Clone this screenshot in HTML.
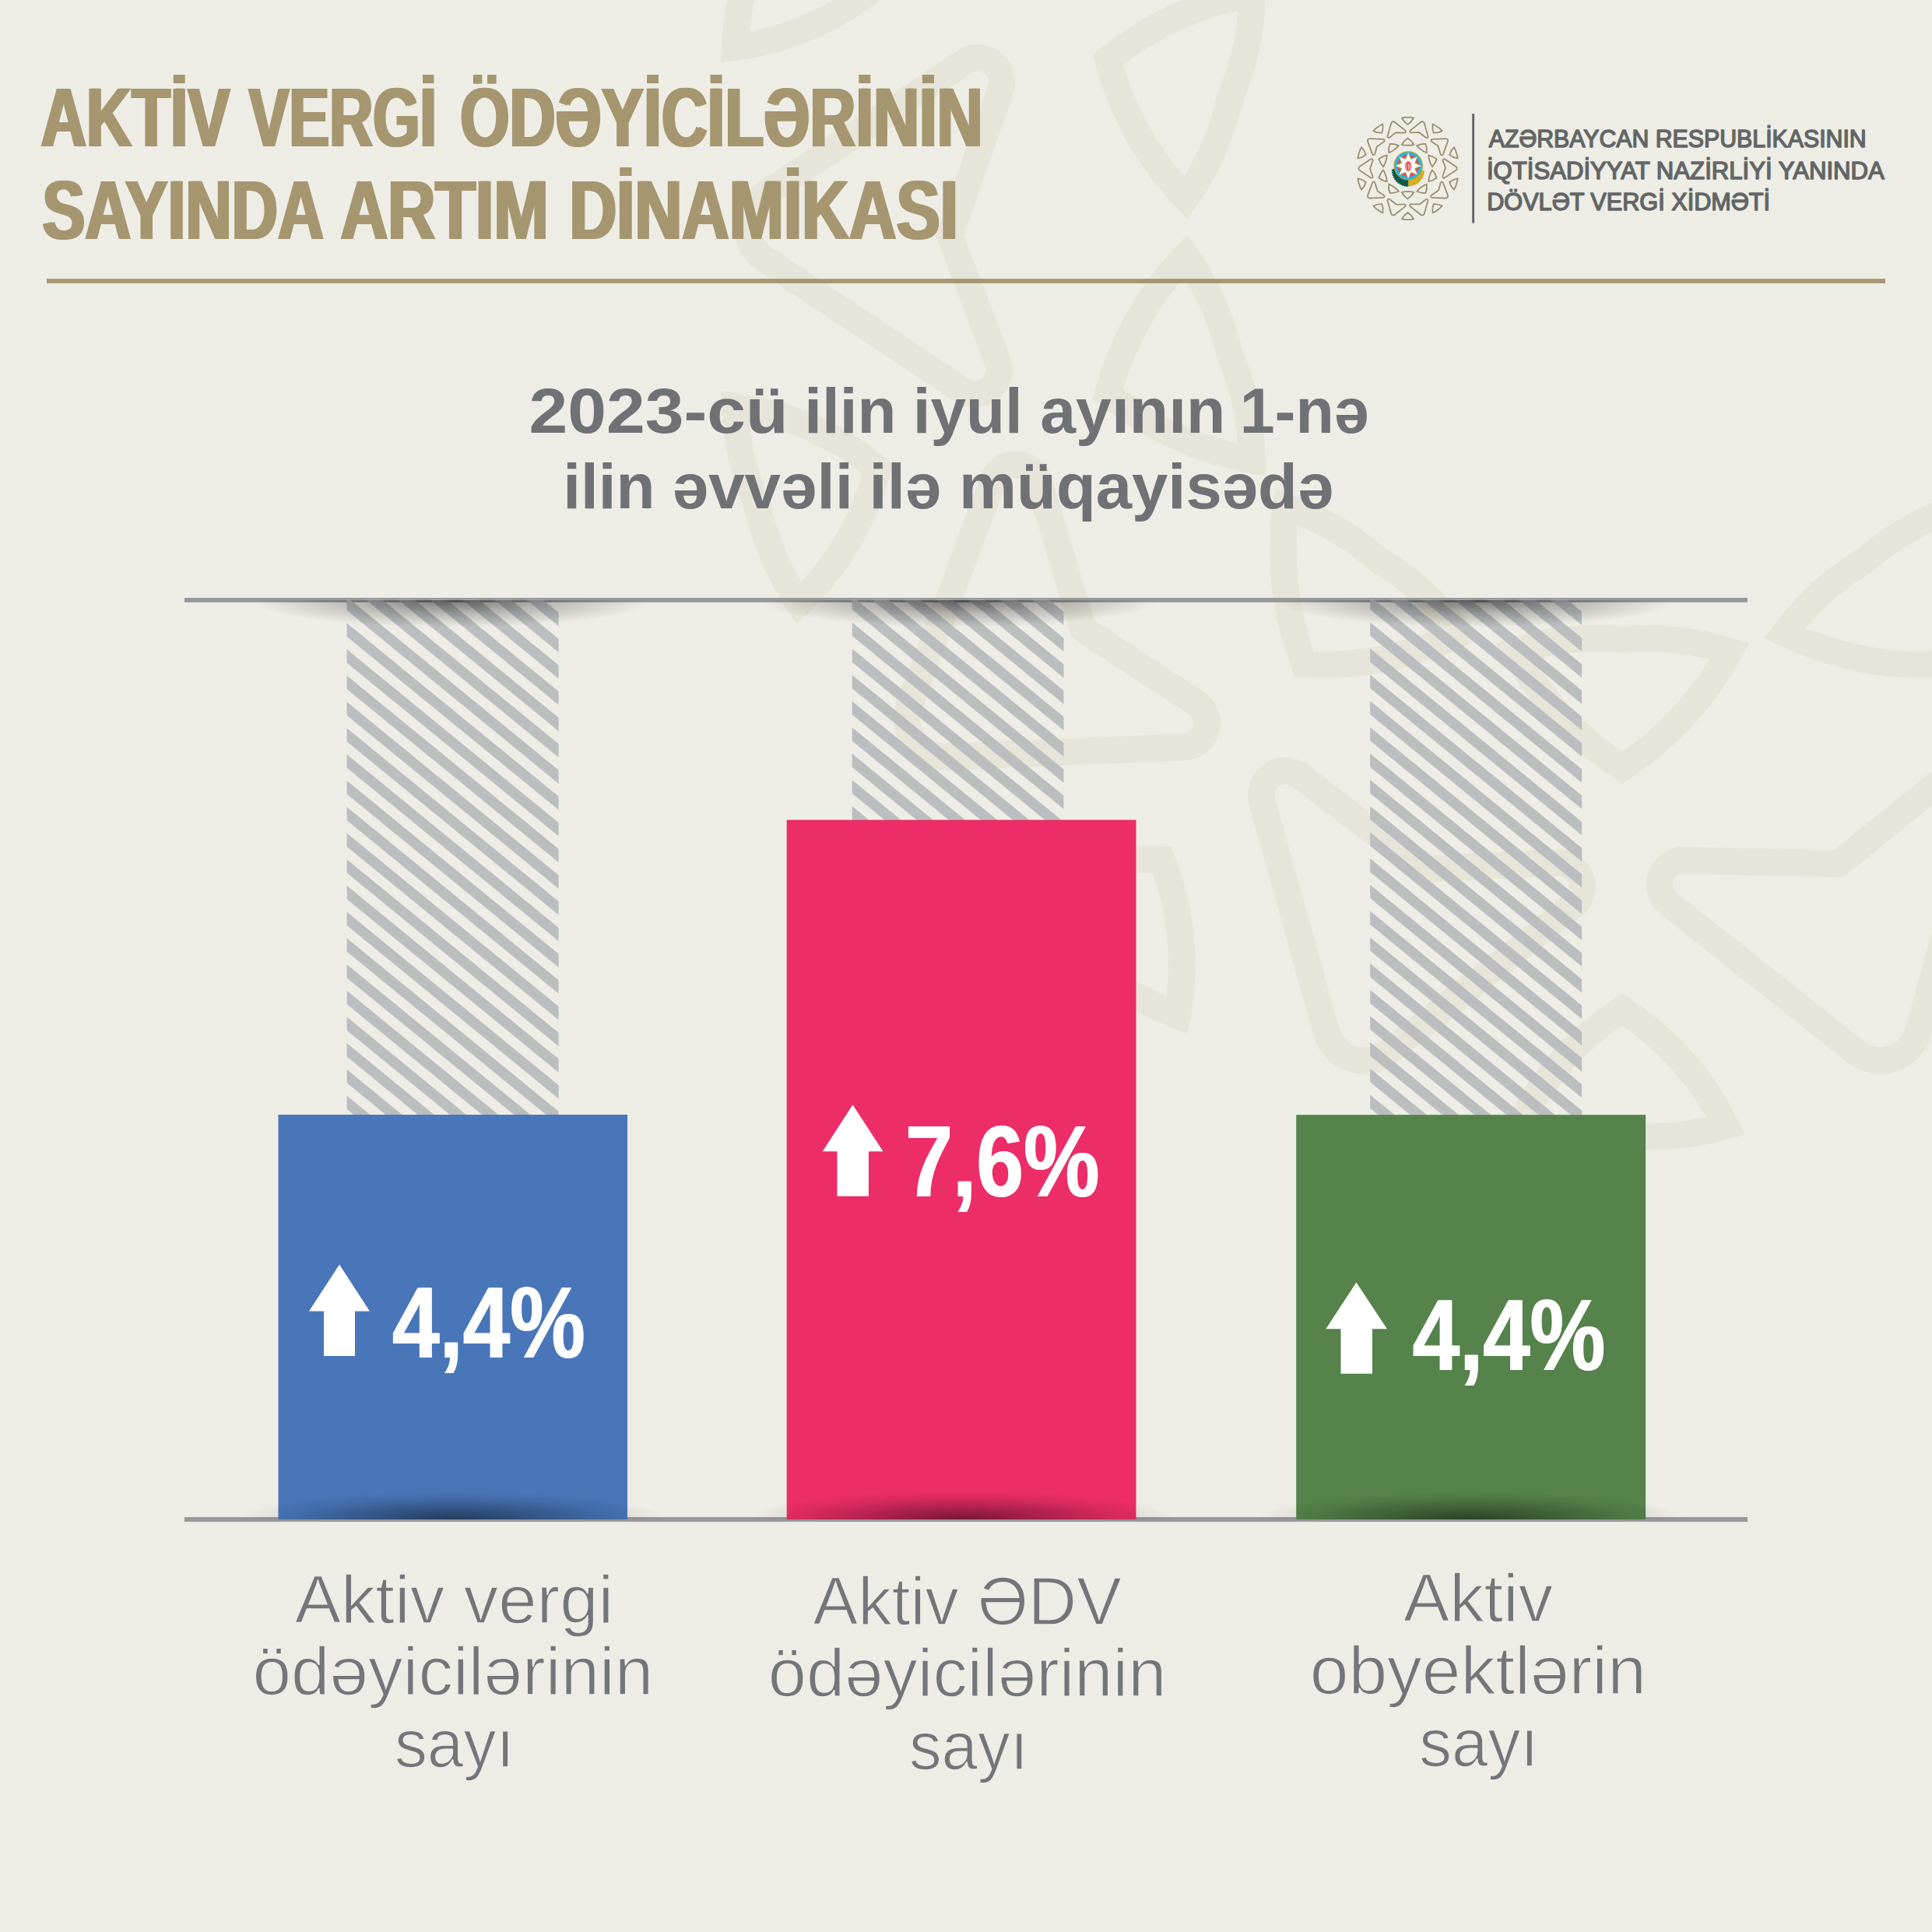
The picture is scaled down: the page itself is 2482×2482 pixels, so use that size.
<!DOCTYPE html>
<html lang="az">
<head>
<meta charset="utf-8">
<title>Aktiv vergi ödəyicilərinin sayında artım dinamikası</title>
<style>
html,body{margin:0;padding:0;background:#EEEDE5;}
body{width:2482px;height:2482px;overflow:hidden;font-family:"Liberation Sans",sans-serif;}
svg{display:block;position:absolute;left:0;top:0;}
text{font-family:"Liberation Sans",sans-serif;}
.title{font-weight:bold;font-size:108px;fill:#A59670;}
.org{font-size:31px;fill:#636666;stroke:#636666;stroke-width:1.5px;stroke-linejoin:round;}
.sub{font-weight:bold;font-size:82px;fill:#6F7175;}
.lbl{font-size:86.5px;fill:#737579;stroke:#EEEDE5;stroke-width:1.5px;}
.num{font-weight:bold;font-size:129px;fill:#ffffff;}
</style>
</head>
<body>
<svg width="2482" height="2482" viewBox="0 0 2482 2482">
<defs>
  <pattern id="hatch" width="26.1" height="26.1" patternUnits="userSpaceOnUse" patternTransform="translate(445.6 800.5) rotate(39.3)">
    <rect x="0" y="0" width="26.1" height="13.4" fill="#B6B9BC" fill-opacity="0.9"/>
  </pattern>
  <pattern id="hatch2" width="26.1" height="26.1" patternUnits="userSpaceOnUse" patternTransform="translate(1094.7 799.6) rotate(39.3)">
    <rect x="0" y="0" width="26.1" height="13.4" fill="#B6B9BC" fill-opacity="0.9"/>
  </pattern>
  <pattern id="hatch3" width="26.1" height="26.1" patternUnits="userSpaceOnUse" patternTransform="translate(1760.2 799.4) rotate(39.3)">
    <rect x="0" y="0" width="26.1" height="13.4" fill="#B6B9BC" fill-opacity="0.9"/>
  </pattern>
  <radialGradient id="shTop" cx="0.5" cy="0" r="0.5" gradientTransform="scale(1 2)">
    <stop offset="0" stop-color="#000" stop-opacity="0.5"/>
    <stop offset="0.5" stop-color="#000" stop-opacity="0.22"/>
    <stop offset="1" stop-color="#000" stop-opacity="0"/>
  </radialGradient>
  <radialGradient id="shBot" cx="0.5" cy="1" r="0.5" gradientTransform="translate(0 -1) scale(1 2)">
    <stop offset="0" stop-color="#000" stop-opacity="0.5"/>
    <stop offset="0.4" stop-color="#000" stop-opacity="0.27"/>
    <stop offset="0.75" stop-color="#000" stop-opacity="0.08"/>
    <stop offset="1" stop-color="#000" stop-opacity="0"/>
  </radialGradient>
</defs>

<!-- BACKGROUND -->
<rect x="0" y="0" width="2482" height="2482" fill="#EEEDE5"/>
<g id="ornament">
<g fill="none" stroke="#E7E5D9" stroke-width="34.50" stroke-linejoin="miter" stroke-miterlimit="6">
<path d="M2084.0 -403.3 Q2172.1 -346.0 2221.9 -253.4 Q2154.4 -232.1 2084.0 -238.7 Q2013.6 -232.1 1946.1 -253.4 Q1995.9 -346.0 2084.0 -403.3 Z"/>
<path d="M2084.0 -714.1 Q2171.4 -770.3 2217.0 -863.7 Q2151.6 -881.9 2084.0 -876.2 Q2016.4 -881.9 1951.0 -863.7 Q1996.6 -770.3 2084.0 -714.1 Z"/>
<path d="M2463.9 -743.0 L2546.6 -446.6 A31.0 31.0 0 0 1 2498.0 -413.6 L2340.5 -533.6 L2167.8 -525.0 A31.0 31.0 0 0 1 2147.0 -580.3 L2384.7 -768.8 A50.0 50.0 0 0 1 2463.9 -743.0 Z"/>
<path d="M2492.4 -270.6 Q2529.9 -172.4 2515.8 -68.3 Q2448.8 -90.7 2395.6 -137.4 Q2334.8 -173.5 2292.7 -230.4 Q2387.4 -276.0 2492.4 -270.6 Z"/>
<path d="M2675.1 -522.0 Q2778.8 -516.1 2870.6 -564.9 Q2828.4 -618.1 2770.4 -653.2 Q2719.0 -697.5 2655.4 -721.3 Q2637.4 -618.9 2675.1 -522.0 Z"/>
<path d="M2999.4 -322.1 L2892.1 -33.7 A31.0 31.0 0 0 1 2833.4 -35.6 L2776.5 -225.2 L2631.7 -319.8 A31.0 31.0 0 0 1 2647.3 -376.8 L2950.5 -389.5 A50.0 50.0 0 0 1 2999.4 -322.1 Z"/>
<path d="M2744.8 76.8 Q2717.5 178.3 2644.8 254.3 Q2603.8 196.7 2588.3 127.7 Q2560.2 62.7 2559.6 -8.0 Q2663.0 10.7 2744.8 76.8 Z"/>
<path d="M3040.4 -19.2 Q3120.8 46.5 3223.8 61.0 Q3220.9 -6.8 3194.5 -69.3 Q3179.1 -135.4 3141.6 -192.0 Q3066.8 -119.8 3040.4 -19.2 Z"/>
<path d="M3185.3 333.2 L2929.0 503.4 A31.0 31.0 0 0 1 2882.5 467.3 L2948.0 280.5 L2886.4 118.8 A31.0 31.0 0 0 1 2932.5 82.0 L3185.3 249.8 A50.0 50.0 0 0 1 3185.3 333.2 Z"/>
<path d="M2744.8 506.2 Q2663.0 572.3 2559.6 591.0 Q2560.2 520.3 2588.3 455.3 Q2603.8 386.3 2644.8 328.7 Q2717.5 404.7 2744.8 506.2 Z"/>
<path d="M3040.4 602.2 Q3066.8 702.8 3141.6 775.0 Q3179.1 718.4 3194.5 652.3 Q3220.9 589.8 3223.8 522.0 Q3120.8 536.5 3040.4 602.2 Z"/>
<path d="M2950.5 972.5 L2643.0 959.6 A31.0 31.0 0 0 1 2626.7 903.1 L2789.5 790.4 L2834.7 623.5 A31.0 31.0 0 0 1 2893.6 620.8 L2999.4 905.1 A50.0 50.0 0 0 1 2950.5 972.5 Z"/>
<path d="M2492.4 853.6 Q2387.4 859.0 2292.7 813.4 Q2334.8 756.5 2395.6 720.4 Q2448.8 673.7 2515.8 651.3 Q2529.9 755.4 2492.4 853.6 Z"/>
<path d="M2675.1 1105.0 Q2637.4 1201.9 2655.4 1304.3 Q2719.0 1280.5 2770.4 1236.2 Q2828.4 1201.1 2870.6 1147.9 Q2778.8 1099.1 2675.1 1105.0 Z"/>
<path d="M2384.7 1351.8 L2143.6 1160.6 A31.0 31.0 0 0 1 2163.6 1105.3 L2361.5 1109.8 L2496.2 1001.3 A31.0 31.0 0 0 1 2545.5 1033.8 L2463.9 1326.0 A50.0 50.0 0 0 1 2384.7 1351.8 Z"/>
<path d="M2084.0 986.3 Q1995.9 929.0 1946.1 836.4 Q2013.6 815.1 2084.0 821.7 Q2154.4 815.1 2221.9 836.4 Q2172.1 929.0 2084.0 986.3 Z"/>
<path d="M2084.0 1297.1 Q1996.6 1353.3 1951.0 1446.7 Q2016.4 1464.9 2084.0 1459.2 Q2151.6 1464.9 2217.0 1446.7 Q2171.4 1353.3 2084.0 1297.1 Z"/>
<path d="M1704.1 1326.0 L1621.4 1029.6 A31.0 31.0 0 0 1 1670.0 996.6 L1827.5 1116.6 L2000.2 1108.0 A31.0 31.0 0 0 1 2021.0 1163.3 L1783.3 1351.8 A50.0 50.0 0 0 1 1704.1 1326.0 Z"/>
<path d="M1675.6 853.6 Q1638.1 755.4 1652.2 651.3 Q1719.2 673.7 1772.4 720.4 Q1833.2 756.5 1875.3 813.4 Q1780.6 859.0 1675.6 853.6 Z"/>
<path d="M1492.9 1105.0 Q1389.2 1099.1 1297.4 1147.9 Q1339.6 1201.1 1397.6 1236.2 Q1449.0 1280.5 1512.6 1304.3 Q1530.6 1201.9 1492.9 1105.0 Z"/>
<path d="M1168.6 905.1 L1275.9 616.7 A31.0 31.0 0 0 1 1334.6 618.6 L1391.5 808.2 L1536.3 902.8 A31.0 31.0 0 0 1 1520.7 959.8 L1217.5 972.5 A50.0 50.0 0 0 1 1168.6 905.1 Z"/>
<path d="M1423.2 506.2 Q1450.5 404.7 1523.2 328.7 Q1564.2 386.3 1579.7 455.3 Q1607.8 520.3 1608.4 591.0 Q1505.0 572.3 1423.2 506.2 Z"/>
<path d="M1127.6 602.2 Q1047.2 536.5 944.2 522.0 Q947.1 589.8 973.5 652.3 Q988.9 718.4 1026.4 775.0 Q1101.2 702.8 1127.6 602.2 Z"/>
<path d="M982.7 249.8 L1239.0 79.6 A31.0 31.0 0 0 1 1285.5 115.7 L1220.0 302.5 L1281.6 464.2 A31.0 31.0 0 0 1 1235.5 501.0 L982.7 333.2 A50.0 50.0 0 0 1 982.7 249.8 Z"/>
<path d="M1423.2 76.8 Q1505.0 10.7 1608.4 -8.0 Q1607.8 62.7 1579.7 127.7 Q1564.2 196.7 1523.2 254.3 Q1450.5 178.3 1423.2 76.8 Z"/>
<path d="M1127.6 -19.2 Q1101.2 -119.8 1026.4 -192.0 Q988.9 -135.4 973.5 -69.3 Q947.1 -6.8 944.2 61.0 Q1047.2 46.5 1127.6 -19.2 Z"/>
<path d="M1217.5 -389.5 L1525.0 -376.6 A31.0 31.0 0 0 1 1541.3 -320.1 L1378.5 -207.4 L1333.3 -40.5 A31.0 31.0 0 0 1 1274.4 -37.8 L1168.6 -322.1 A50.0 50.0 0 0 1 1217.5 -389.5 Z"/>
<path d="M1675.6 -270.6 Q1780.6 -276.0 1875.3 -230.4 Q1833.2 -173.5 1772.4 -137.4 Q1719.2 -90.7 1652.2 -68.3 Q1638.1 -172.4 1675.6 -270.6 Z"/>
<path d="M1492.9 -522.0 Q1530.6 -618.9 1512.6 -721.3 Q1449.0 -697.5 1397.6 -653.2 Q1339.6 -618.1 1297.4 -564.9 Q1389.2 -516.1 1492.9 -522.0 Z"/>
<path d="M1783.3 -768.8 L2024.4 -577.6 A31.0 31.0 0 0 1 2004.4 -522.3 L1806.5 -526.8 L1671.8 -418.3 A31.0 31.0 0 0 1 1622.5 -450.8 L1704.1 -743.0 A50.0 50.0 0 0 1 1783.3 -768.8 Z"/>
</g>
</g>

<!-- HEADER -->
<g id="header">
  <text class="title" x="50.58" y="188.30" textLength="242.87" lengthAdjust="spacingAndGlyphs">AKTİV</text>
  <text class="title" x="54.38" y="188.30" textLength="242.87" lengthAdjust="spacingAndGlyphs">AKTİV</text>
  <text class="title" x="317.67" y="188.30" textLength="241.42" lengthAdjust="spacingAndGlyphs">VERGİ</text>
  <text class="title" x="321.47" y="188.30" textLength="241.42" lengthAdjust="spacingAndGlyphs">VERGİ</text>
  <text class="title" x="589.15" y="188.30" textLength="671.55" lengthAdjust="spacingAndGlyphs">ÖDƏYİCİLƏRİNİN</text>
  <text class="title" x="592.95" y="188.30" textLength="671.55" lengthAdjust="spacingAndGlyphs">ÖDƏYİCİLƏRİNİN</text>
  <text class="title" x="52.58" y="306.90" textLength="361.73" lengthAdjust="spacingAndGlyphs">SAYINDA</text>
  <text class="title" x="56.38" y="306.90" textLength="361.73" lengthAdjust="spacingAndGlyphs">SAYINDA</text>
  <text class="title" x="435.40" y="306.90" textLength="267.35" lengthAdjust="spacingAndGlyphs">ARTIM</text>
  <text class="title" x="439.20" y="306.90" textLength="267.35" lengthAdjust="spacingAndGlyphs">ARTIM</text>
  <text class="title" x="729.58" y="306.90" textLength="499.44" lengthAdjust="spacingAndGlyphs">DİNAMİKASI</text>
  <text class="title" x="733.38" y="306.90" textLength="499.44" lengthAdjust="spacingAndGlyphs">DİNAMİKASI</text>
  <rect x="60" y="358.1" width="2362" height="5.8" fill="#A59670"/>
</g>
<!-- LOGO -->
<g id="logo">
<g fill="none" stroke="#988D6D" stroke-width="1.75" stroke-linejoin="miter" stroke-miterlimit="6" stroke-linejoin="round">
<path d="M1808.5 177.4 Q1813.4 180.6 1816.2 185.8 Q1812.5 187.0 1808.5 186.6 Q1804.5 187.0 1800.8 185.8 Q1803.6 180.6 1808.5 177.4 Z"/>
<path d="M1808.5 159.9 Q1813.4 156.7 1816.0 151.5 Q1812.3 150.5 1808.5 150.8 Q1804.7 150.5 1801.0 151.5 Q1803.6 156.7 1808.5 159.9 Z"/>
<path d="M1829.8 158.3 L1834.5 174.9 A1.7 1.7 0 0 1 1831.8 176.8 L1822.9 170.0 L1813.2 170.5 A1.7 1.7 0 0 1 1812.0 167.4 L1825.4 156.8 A2.8 2.8 0 0 1 1829.8 158.3 Z"/>
<path d="M1831.4 184.8 Q1833.6 190.3 1832.8 196.2 Q1829.0 194.9 1826.0 192.3 Q1822.6 190.3 1820.2 187.1 Q1825.5 184.5 1831.4 184.8 Z"/>
<path d="M1841.7 170.7 Q1847.5 171.0 1852.7 168.3 Q1850.3 165.3 1847.1 163.3 Q1844.2 160.8 1840.6 159.5 Q1839.6 165.3 1841.7 170.7 Z"/>
<path d="M1859.9 181.9 L1853.9 198.1 A1.7 1.7 0 0 1 1850.6 198.0 L1847.4 187.4 L1839.3 182.1 A1.7 1.7 0 0 1 1840.1 178.9 L1857.2 178.1 A2.8 2.8 0 0 1 1859.9 181.9 Z"/>
<path d="M1845.6 204.3 Q1844.1 210.0 1840.0 214.3 Q1837.7 211.1 1836.8 207.2 Q1835.3 203.5 1835.2 199.6 Q1841.0 200.6 1845.6 204.3 Z"/>
<path d="M1862.2 198.9 Q1866.7 202.6 1872.5 203.5 Q1872.4 199.6 1870.9 196.1 Q1870.0 192.4 1867.9 189.2 Q1863.7 193.3 1862.2 198.9 Z"/>
<path d="M1870.4 218.7 L1856.0 228.3 A1.7 1.7 0 0 1 1853.4 226.3 L1857.0 215.8 L1853.6 206.7 A1.7 1.7 0 0 1 1856.2 204.6 L1870.4 214.1 A2.8 2.8 0 0 1 1870.4 218.7 Z"/>
<path d="M1845.6 228.5 Q1841.0 232.2 1835.2 233.2 Q1835.3 229.3 1836.8 225.6 Q1837.7 221.7 1840.0 218.5 Q1844.1 222.8 1845.6 228.5 Z"/>
<path d="M1862.2 233.9 Q1863.7 239.5 1867.9 243.6 Q1870.0 240.4 1870.9 236.7 Q1872.4 233.2 1872.5 229.3 Q1866.7 230.2 1862.2 233.9 Z"/>
<path d="M1857.2 254.7 L1839.9 253.9 A1.7 1.7 0 0 1 1839.0 250.8 L1848.1 244.4 L1850.7 235.1 A1.7 1.7 0 0 1 1854.0 234.9 L1859.9 250.9 A2.8 2.8 0 0 1 1857.2 254.7 Z"/>
<path d="M1831.4 248.0 Q1825.5 248.3 1820.2 245.7 Q1822.6 242.5 1826.0 240.5 Q1829.0 237.9 1832.8 236.6 Q1833.6 242.5 1831.4 248.0 Z"/>
<path d="M1841.7 262.1 Q1839.6 267.5 1840.6 273.3 Q1844.2 272.0 1847.1 269.5 Q1850.3 267.5 1852.7 264.5 Q1847.5 261.8 1841.7 262.1 Z"/>
<path d="M1825.4 276.0 L1811.8 265.2 A1.7 1.7 0 0 1 1813.0 262.1 L1824.1 262.4 L1831.7 256.3 A1.7 1.7 0 0 1 1834.4 258.1 L1829.8 274.5 A2.8 2.8 0 0 1 1825.4 276.0 Z"/>
<path d="M1808.5 255.4 Q1803.6 252.2 1800.8 247.0 Q1804.5 245.8 1808.5 246.2 Q1812.5 245.8 1816.2 247.0 Q1813.4 252.2 1808.5 255.4 Z"/>
<path d="M1808.5 272.9 Q1803.6 276.1 1801.0 281.3 Q1804.7 282.3 1808.5 282.0 Q1812.3 282.3 1816.0 281.3 Q1813.4 276.1 1808.5 272.9 Z"/>
<path d="M1787.2 274.5 L1782.5 257.9 A1.7 1.7 0 0 1 1785.2 256.0 L1794.1 262.8 L1803.8 262.3 A1.7 1.7 0 0 1 1805.0 265.4 L1791.6 276.0 A2.8 2.8 0 0 1 1787.2 274.5 Z"/>
<path d="M1785.6 248.0 Q1783.4 242.5 1784.2 236.6 Q1788.0 237.9 1791.0 240.5 Q1794.4 242.5 1796.8 245.7 Q1791.5 248.3 1785.6 248.0 Z"/>
<path d="M1775.3 262.1 Q1769.5 261.8 1764.3 264.5 Q1766.7 267.5 1769.9 269.5 Q1772.8 272.0 1776.4 273.3 Q1777.4 267.5 1775.3 262.1 Z"/>
<path d="M1757.1 250.9 L1763.1 234.7 A1.7 1.7 0 0 1 1766.4 234.8 L1769.6 245.4 L1777.7 250.7 A1.7 1.7 0 0 1 1776.9 253.9 L1759.8 254.7 A2.8 2.8 0 0 1 1757.1 250.9 Z"/>
<path d="M1771.4 228.5 Q1772.9 222.8 1777.0 218.5 Q1779.3 221.7 1780.2 225.6 Q1781.7 229.3 1781.8 233.2 Q1776.0 232.2 1771.4 228.5 Z"/>
<path d="M1754.8 233.9 Q1750.3 230.2 1744.5 229.3 Q1744.6 233.2 1746.1 236.7 Q1747.0 240.4 1749.1 243.6 Q1753.3 239.5 1754.8 233.9 Z"/>
<path d="M1746.6 214.1 L1761.0 204.5 A1.7 1.7 0 0 1 1763.6 206.5 L1760.0 217.0 L1763.4 226.1 A1.7 1.7 0 0 1 1760.8 228.2 L1746.6 218.7 A2.8 2.8 0 0 1 1746.6 214.1 Z"/>
<path d="M1771.4 204.3 Q1776.0 200.6 1781.8 199.6 Q1781.7 203.5 1780.2 207.2 Q1779.3 211.1 1777.0 214.3 Q1772.9 210.0 1771.4 204.3 Z"/>
<path d="M1754.8 198.9 Q1753.3 193.3 1749.1 189.2 Q1747.0 192.4 1746.1 196.1 Q1744.6 199.6 1744.5 203.5 Q1750.3 202.6 1754.8 198.9 Z"/>
<path d="M1759.8 178.1 L1777.1 178.9 A1.7 1.7 0 0 1 1778.0 182.0 L1768.9 188.4 L1766.3 197.7 A1.7 1.7 0 0 1 1763.0 197.9 L1757.1 181.9 A2.8 2.8 0 0 1 1759.8 178.1 Z"/>
<path d="M1785.6 184.8 Q1791.5 184.5 1796.8 187.1 Q1794.4 190.3 1791.0 192.3 Q1788.0 194.9 1784.2 196.2 Q1783.4 190.3 1785.6 184.8 Z"/>
<path d="M1775.3 170.7 Q1777.4 165.3 1776.4 159.5 Q1772.8 160.8 1769.9 163.3 Q1766.7 165.3 1764.3 168.3 Q1769.5 171.0 1775.3 170.7 Z"/>
<path d="M1791.6 156.8 L1805.2 167.6 A1.7 1.7 0 0 1 1804.0 170.7 L1792.9 170.4 L1785.3 176.5 A1.7 1.7 0 0 1 1782.6 174.7 L1787.2 158.3 A2.8 2.8 0 0 1 1791.6 156.8 Z"/>
</g>
<path d="M1788.72 218.10 A20.30 20.30 0 0 0 1809.30 239.20 L1809.30 212.90 Z" fill="#0E5A4B" stroke="#0E5A4B" stroke-width="1.8" stroke-dasharray="1.7 1.3"/>
<path d="M1809.60 238.80 A19.90 19.90 0 0 0 1829.48 219.70 L1809.60 212.90 Z" fill="#D4AF1E" stroke="#C9A21B" stroke-width="1.5" stroke-dasharray="1.5 1.2"/>
<circle cx="1809.2" cy="212.9" r="18.7" fill="#C69C2B"/>
<circle cx="1809.2" cy="212.9" r="17.5" fill="#14BDF0"/>
<circle cx="1809.2" cy="212.9" r="14.2" fill="#EE4B50"/>
<circle cx="1809.2" cy="212.9" r="11.6" fill="#5FA544"/>
<polygon points="1809.20,196.30 1812.61,204.68 1820.94,201.16 1817.42,209.49 1825.80,212.90 1817.42,216.31 1820.94,224.64 1812.61,221.12 1809.20,229.50 1805.79,221.12 1797.46,224.64 1800.98,216.31 1792.60,212.90 1800.98,209.49 1797.46,201.16 1805.79,204.68" fill="#ffffff" stroke="#C9A85A" stroke-width="0.4"/>
<ellipse cx="1809.2" cy="213.5" rx="4.1" ry="6.3" fill="#EE4B50"/>
<path d="M1809.2 218.1 q1.8 -4 0 -8 M1811.2 217.1 q1.4 -3 0 -6 M1807.2 217.1 q-1.4 -3 0 -6" stroke="#fff" stroke-width="0.7" fill="none"/>
  <rect x="1891.2" y="146" width="2.9" height="140.5" fill="#616364"/>
  <text class="org" x="1912.69" y="188.90" textLength="485.02" lengthAdjust="spacingAndGlyphs">AZƏRBAYCAN RESPUBLİKASININ</text>
  <text class="org" x="1909.92" y="229.50" textLength="510.89" lengthAdjust="spacingAndGlyphs">İQTİSADİYYAT NAZİRLİYİ YANINDA</text>
  <text class="org" x="1910.24" y="269.50" textLength="363.83" lengthAdjust="spacingAndGlyphs">DÖVLƏT VERGİ XİDMƏTİ</text>
</g>
<!-- SUBTITLE -->
<g id="subtitle">
  <text class="sub" x="679.40" y="556.00" textLength="333.20" lengthAdjust="spacingAndGlyphs">2023-cü</text>
  <text class="sub" x="1033.29" y="556.00" textLength="118.08" lengthAdjust="spacingAndGlyphs">ilin</text>
  <text class="sub" x="1172.78" y="556.00" textLength="141.01" lengthAdjust="spacingAndGlyphs">iyul</text>
  <text class="sub" x="1336.29" y="556.00" textLength="238.12" lengthAdjust="spacingAndGlyphs">ayının</text>
  <text class="sub" x="1592.71" y="556.00" textLength="166.05" lengthAdjust="spacingAndGlyphs">1-nə</text>
  <text class="sub" x="723.28" y="652.50" textLength="118.30" lengthAdjust="spacingAndGlyphs">ilin</text>
  <text class="sub" x="863.74" y="652.50" textLength="232.17" lengthAdjust="spacingAndGlyphs">əvvəli</text>
  <text class="sub" x="1116.47" y="652.50" textLength="92.78" lengthAdjust="spacingAndGlyphs">ilə</text>
  <text class="sub" x="1232.01" y="652.50" textLength="481.23" lengthAdjust="spacingAndGlyphs">müqayisədə</text>
</g>
<!-- CHART -->
<g id="chart">
  <!-- top line -->
  <rect x="237" y="768" width="2008" height="5.8" fill="#97999C"/>
  <!-- hatched columns -->
  <rect x="445.6" y="770.5" width="272" height="664" fill="url(#hatch)"/>
  <rect x="1094.7" y="770.5" width="271.8" height="286" fill="url(#hatch2)"/>
  <rect x="1760.2" y="770.5" width="271.9" height="664" fill="url(#hatch3)"/>
  <!-- top shadows -->
  <rect x="325" y="771" width="512" height="35" fill="url(#shTop)"/>
  <rect x="975" y="771" width="512" height="35" fill="url(#shTop)"/>
  <rect x="1640" y="771" width="512" height="35" fill="url(#shTop)"/>
  <!-- bottom line -->
  <rect x="237" y="1949" width="2008" height="6" fill="#97999C"/>
  <!-- bars -->
  <rect x="357.5" y="1432" width="448.5" height="520" fill="#4876B9"/>
  <rect x="1010.7" y="1053.3" width="448.8" height="898.7" fill="#EC2D68"/>
  <rect x="1665.2" y="1432.2" width="448.9" height="519.8" fill="#55834B"/>
  <!-- bottom shadows -->
  <rect x="306.7" y="1915" width="550" height="37" fill="url(#shBot)"/>
  <rect x="960.1" y="1915" width="550" height="37" fill="url(#shBot)"/>
  <rect x="1614.7" y="1915" width="550" height="37" fill="url(#shBot)"/>
  <!-- arrows -->
  <path d="M436 1624.6 L475 1684.4 L456 1684.4 L456 1742 L416 1742 L416 1684.4 L397 1684.4 Z" fill="#fff"/>
  <path d="M1095.5 1419.2 L1134.5 1479.2 L1115.9 1479.2 L1115.9 1536.7 L1075.5 1536.7 L1075.5 1479.2 L1056.7 1479.2 Z" fill="#fff"/>
  <path d="M1742.4 1647.4 L1781.9 1707.2 L1763 1707.2 L1763 1764.8 L1722.5 1764.8 L1722.5 1707.2 L1703.3 1707.2 Z" fill="#fff"/>
  <!-- numbers -->
  <text class="num" x="503.36" y="1743.50" textLength="247.61" lengthAdjust="spacingAndGlyphs">4,4%</text>
  <text class="num" x="504.96" y="1743.50" textLength="247.61" lengthAdjust="spacingAndGlyphs">4,4%</text>
  <text class="num" x="1162.30" y="1537.30" textLength="249.28" lengthAdjust="spacingAndGlyphs">7,6%</text>
  <text class="num" x="1163.90" y="1537.30" textLength="249.28" lengthAdjust="spacingAndGlyphs">7,6%</text>
  <text class="num" x="1813.96" y="1760.40" textLength="247.41" lengthAdjust="spacingAndGlyphs">4,4%</text>
  <text class="num" x="1815.56" y="1760.40" textLength="247.41" lengthAdjust="spacingAndGlyphs">4,4%</text>
</g>
<!-- LABELS -->
<g id="labels">
  <text class="lbl" x="378.78" y="2084.75" textLength="409.46" lengthAdjust="spacingAndGlyphs">Aktiv vergi</text>
  <text class="lbl" x="324.51" y="2176.95" textLength="514.82" lengthAdjust="spacingAndGlyphs">ödəyicilərinin</text>
  <text class="lbl" x="506.92" y="2269.75" textLength="153.82" lengthAdjust="spacingAndGlyphs">sayı</text>
  <text class="lbl" x="1044.58" y="2087.15" textLength="396.25" lengthAdjust="spacingAndGlyphs">Aktiv ƏDV</text>
  <text class="lbl" x="986.83" y="2179.05" textLength="511.56" lengthAdjust="spacingAndGlyphs">ödəyicilərinin</text>
  <text class="lbl" x="1167.93" y="2272.65" textLength="152.96" lengthAdjust="spacingAndGlyphs">sayı</text>
  <text class="lbl" x="1803.08" y="2083.35" textLength="191.98" lengthAdjust="spacingAndGlyphs">Aktiv</text>
  <text class="lbl" x="1682.70" y="2176.45" textLength="432.26" lengthAdjust="spacingAndGlyphs">obyektlərin</text>
  <text class="lbl" x="1823.33" y="2268.75" textLength="153.18" lengthAdjust="spacingAndGlyphs">sayı</text>
</g>
</svg>
</body>
</html>
